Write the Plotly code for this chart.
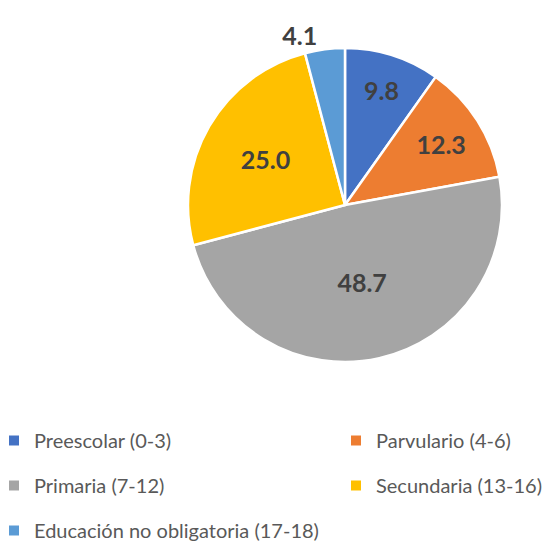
import plotly.graph_objects as go

labels = ["Preescolar (0-3)", "Parvulario (4-6)", "Primaria (7-12)",
          "Secundaria (13-16)", "Educación no obligatoria (17-18)"]
values = [9.8, 12.3, 48.7, 25.0, 4.1]
colors = ["#4472C4", "#ED7D31", "#A5A5A5", "#FFC000", "#5B9BD5"]
text_positions = ["inside", "inside", "inside", "inside", "outside"]
legend_cols = ["legend", "legend2", "legend", "legend2", "legend"]

W, H = 559, 542
cx, cy, r = 345, 205, 157

fig = go.Figure()
fig.add_trace(go.Pie(
    labels=labels, values=values, sort=False, direction="clockwise", rotation=0,
    marker=dict(colors=colors, line=dict(color="white", width=2.5)),
    texttemplate="%{value:.1f}", textposition=text_positions,
    insidetextorientation="horizontal",
    textfont=dict(family="Lato", size=25, color="#404040", weight="bold"),
    showlegend=False, automargin=False, hoverinfo="label+value",
    domain=dict(x=[(cx - r) / W, (cx + r) / W], y=[1 - (cy + r) / H, 1 - (cy - r) / H]),
))
for i, (lab, col, lg) in enumerate(zip(labels, colors, legend_cols)):
    fig.add_trace(go.Scatter(x=[None], y=[None], mode="markers", name=lab,
                             marker=dict(symbol="square", size=10, color=col),
                             legend=lg, legendgroup=f"g{i}", showlegend=True))

leg_common = dict(orientation="v", xanchor="left", yanchor="top",
                  tracegroupgap=16, itemclick=False,
                  font=dict(family="Lato", size=20, color="#595959"),
                  bgcolor="rgba(0,0,0,0)", borderwidth=0)
fig.update_layout(
    width=W, height=H, margin=dict(l=0, r=0, t=0, b=0, autoexpand=False),
    paper_bgcolor="white", plot_bgcolor="white",
    xaxis=dict(visible=False), yaxis=dict(visible=False),
    legend=dict(**leg_common, x=-6 / W, y=1 - 421 / H),
    legend2=dict(**leg_common, x=336 / W, y=1 - 421 / H),
)
fig.write_html("out.html", config={"displayModeBar": False},
               post_script="document.body.style.margin='0';document.body.style.overflow='hidden';")
